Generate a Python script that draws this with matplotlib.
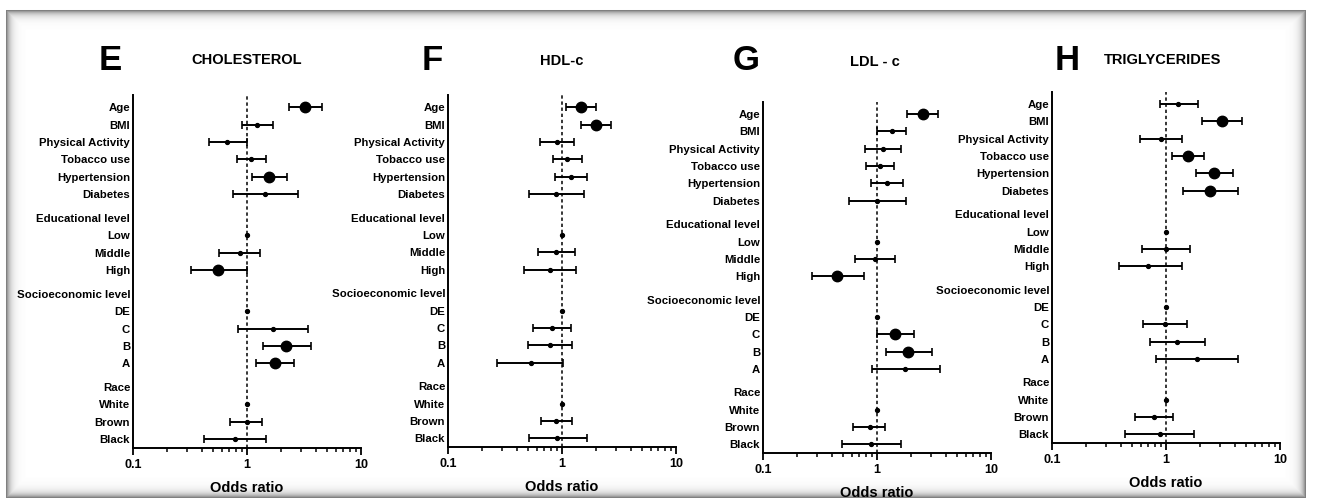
import numpy as np
import matplotlib
matplotlib.use('Agg')
import matplotlib.pyplot as plt
from matplotlib import font_manager
from matplotlib.ticker import LogLocator, NullFormatter

names = {f.name for f in font_manager.fontManager.ttflist}
FONT = 'Liberation Sans Narrow' if 'Liberation Sans Narrow' in names else 'Liberation Sans'
NARROW = FONT == 'Liberation Sans Narrow'
plt.rcParams['font.family'] = [FONT, 'DejaVu Sans']
plt.rcParams['font.weight'] = 'bold'

nan = np.nan

labels = ['Age', 'BMI', 'Physical Activity', 'Tobacco use', 'Hypertension', 'Diabetes',
          'Educational level', 'Low', 'Middle', 'High',
          'Socioeconomic level', 'DE', 'C', 'B', 'A',
          'Race', 'White', 'Brown', 'Black']
headings = ['Educational level', 'Socioeconomic level', 'Race']

# odds ratio, lower / upper 95% CI (nan = heading or reference category)
chol_or = [3.23, 1.23, 0.67, 1.08, 1.57, 1.44, nan, 1, 0.86, 0.56, nan, 1, 1.68, 2.20, 1.76, nan, 1, 0.99, 0.79]
chol_lo = [2.35, 0.91, 0.46, 0.81, 1.11, 0.75, nan, nan, 0.57, 0.32, nan, nan, 0.83, 1.37, 1.20, nan, nan, 0.71, 0.42]
chol_hi = [4.52, 1.68, 0.99, 1.46, 2.23, 2.78, nan, nan, 1.30, 0.99, nan, nan, 3.41, 3.62, 2.60, nan, nan, 1.35, 1.46]
chol_sig = ['Age', 'Hypertension', 'High', 'B', 'A']

hdl_or = [1.47, 1.99, 0.90, 1.11, 1.19, 0.89, nan, 1, 0.89, 0.79, nan, 1, 0.82, 0.79, 0.53, nan, 1, 0.89, 0.91]
hdl_lo = [1.08, 1.47, 0.64, 0.83, 0.87, 0.51, nan, nan, 0.61, 0.46, nan, nan, 0.56, 0.50, 0.27, nan, nan, 0.65, 0.51]
hdl_hi = [1.99, 2.67, 1.28, 1.51, 1.67, 1.56, nan, nan, 1.30, 1.32, nan, nan, 1.19, 1.23, 1.03, nan, nan, 1.22, 1.67]
hdl_sig = ['Age', 'BMI']

ldl_or = [2.52, 1.35, 1.12, 1.06, 1.22, 1.00, nan, 1, 0.96, 0.45, nan, 1, 1.44, 1.88, 1.76, nan, 1, 0.86, 0.88]
ldl_lo = [1.85, 0.99, 0.79, 0.80, 0.88, 0.57, nan, nan, 0.64, 0.27, nan, nan, 0.99, 1.19, 0.90, nan, nan, 0.62, 0.49]
ldl_hi = [3.45, 1.80, 1.61, 1.41, 1.70, 1.80, nan, nan, 1.44, 0.77, nan, nan, 2.11, 3.06, 3.57, nan, nan, 1.18, 1.61]
ldl_sig = ['Age', 'High', 'C', 'B']

tg_or = [1.28, 3.12, 0.90, 1.55, 2.64, 2.43, nan, 1, 0.99, 0.69, nan, 1, 0.98, 1.26, 1.88, nan, 1, 0.79, 0.89]
tg_lo = [0.89, 2.08, 0.59, 1.12, 1.82, 1.40, nan, nan, 0.61, 0.39, nan, nan, 0.63, 0.73, 0.82, nan, nan, 0.54, 0.44]
tg_hi = [1.92, 4.67, 1.37, 2.17, 3.85, 4.26, nan, nan, 1.62, 1.37, nan, nan, 1.54, 2.20, 4.31, nan, nan, 1.15, 1.77]
tg_sig = ['BMI', 'Tobacco use', 'Hypertension', 'Diabetes']

letters = ['E', 'F', 'G', 'H']
titles = ['CHOLESTEROL', 'HDL-c', 'LDL - c', 'TRIGLYCERIDES']

W, H = 1319, 499
fig = plt.figure(figsize=(W / 100, H / 100), dpi=100)

# framed background with soft shadow edge
bg = fig.add_axes([0, 0, 1, 1], zorder=-10)
yy, xx = np.mgrid[0:H, 0:W]
d = np.minimum.reduce([xx - 6, 1305 - xx, yy - 10, 497 - yy]).astype(float)
shade = np.where(d < 0, 1.0, 1 - 0.5 * np.exp(-d / 4.0))
bg.imshow(shade, cmap='gray', vmin=0, vmax=1, extent=[0, 1, 0, 1], aspect='auto')
bg.axis('off')

# y positions: one row each, small extra gap before every heading
ypos = []
g = 0
for i, lab in enumerate(labels):
    if lab in headings:
        g += 1
    ypos.append(i + 0.35 * g)

ysize = 9.4 if NARROW else 8.2
tsize = 12 if NARROW else 10.5

panels = [
    (chol_or, chol_lo, chol_hi, chol_sig, (133, 95, 361, 448), (110, 60), (247, 60)),
    (hdl_or, hdl_lo, hdl_hi, hdl_sig, (448, 95, 676, 447), (432, 60), (562, 61)),
    (ldl_or, ldl_lo, ldl_hi, ldl_sig, (763, 102, 991, 453), (746, 61), (875, 62)),
    (tg_or, tg_lo, tg_hi, tg_sig, (1052, 92, 1280, 443), (1067, 61), (1163, 60)),
]

for k, (o, lo, hi, sig, box, lpos, tpos) in enumerate(panels):
    l, t, r, b = box
    ax = fig.add_axes([l / W, 1 - b / H, (r - l) / W, (b - t) / H])
    ax.set_facecolor('none')
    ax.set_xscale('log')
    ax.set_xlim(0.1, 10)
    ax.set_ylim(19.55, -0.7)
    ax.axvline(1, color='black', lw=1.1, ls=(0, (2.2, 1.8)), zorder=1)
    for i, lab in enumerate(labels):
        if np.isnan(o[i]):
            continue
        big = lab in sig
        ms = 7.5 if big else 2.8
        if np.isnan(lo[i]):
            ax.plot(o[i], ypos[i], 'o', color='black', ms=ms, zorder=3)
        else:
            ax.errorbar(o[i], ypos[i], xerr=[[o[i] - lo[i]], [hi[i] - o[i]]],
                        fmt='o', color='black', ms=ms, elinewidth=1.4,
                        capsize=3.2, capthick=1.2, zorder=3)
    ax.set_yticks(ypos)
    ax.set_yticklabels(labels, fontsize=ysize, fontweight='bold')
    ax.tick_params(axis='y', length=0, pad=2)
    ax.set_xticks([0.1, 1, 10])
    ax.set_xticklabels(['0.1', '1', '10'], fontsize=9, fontweight='bold')
    ax.xaxis.set_minor_locator(LogLocator(base=10, subs=np.arange(2, 10)))
    ax.xaxis.set_minor_formatter(NullFormatter())
    ax.tick_params(axis='x', which='major', direction='out', length=5, width=1.3, pad=3)
    ax.tick_params(axis='x', which='minor', direction='out', length=3, width=1.1)
    for s in ['top', 'right']:
        ax.spines[s].set_visible(False)
    for s in ['left', 'bottom']:
        ax.spines[s].set_linewidth(1.4)
    ax.set_xlabel('Odds ratio', fontsize=10.5, fontweight='bold', labelpad=7)
    fig.text(lpos[0] / W, 1 - lpos[1] / H, letters[k], fontsize=25, fontweight='bold',
             ha='center', va='center')
    fig.text(tpos[0] / W, 1 - tpos[1] / H, titles[k], fontsize=tsize, fontweight='bold',
             ha='center', va='center')

fig.savefig('out.png', dpi=100)
